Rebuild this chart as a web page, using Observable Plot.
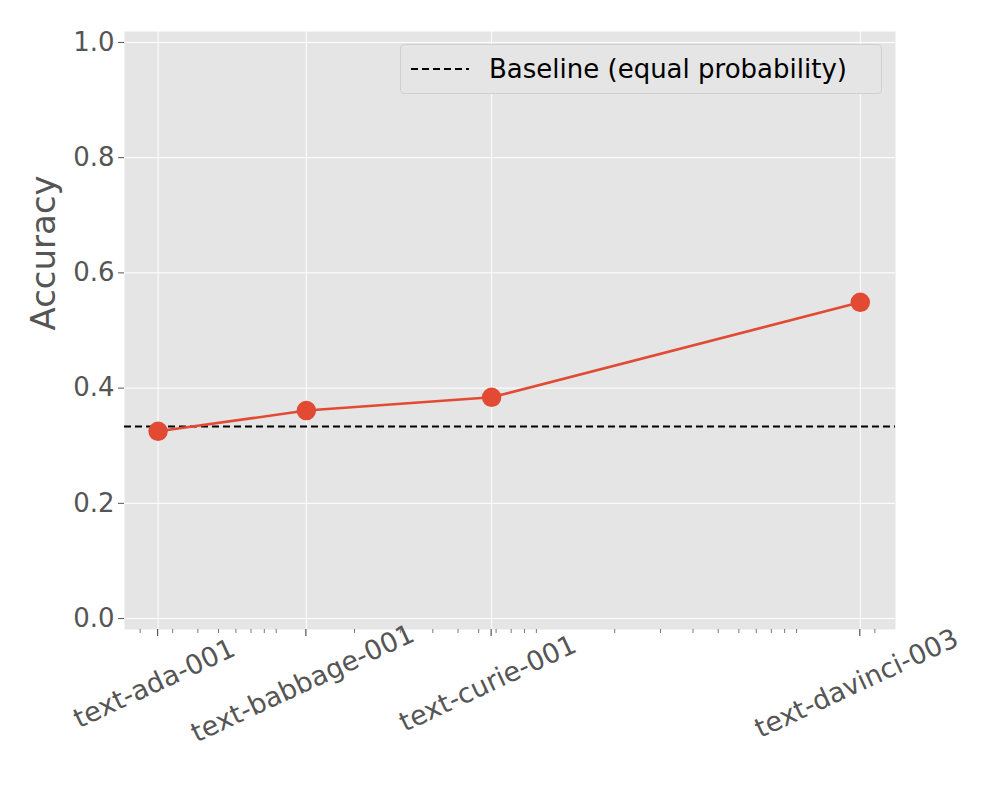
<!DOCTYPE html>
<html><head><meta charset="utf-8">
<script src="https://cdn.jsdelivr.net/npm/d3@7"></script>
<script src="https://cdn.jsdelivr.net/npm/@observablehq/plot@0.6"></script>
<style>
body{margin:0;background:#fff;font-family:"DejaVu Sans",sans-serif}
#wrap{position:relative;width:1000px;height:800px}
#legend{position:absolute;left:400px;top:44px;width:482px;height:50px;background:#e5e5e5;border:1px solid #d0d0d0;border-radius:4px;box-sizing:border-box;font-size:26px;color:#000;display:flex;align-items:center}
#legend svg{margin-left:10px;margin-right:20px}
</style></head><body>
<div id="wrap"><div id="chart"></div>
<div id="legend"><svg width="58" height="10"><line x1="0" y1="5" x2="58" y2="5" stroke="#000" stroke-width="2" stroke-dasharray="7,4"/></svg>Baseline (equal probability)</div></div>
<script>
const models = ["text-ada-001", "text-babbage-001", "text-curie-001", "text-davinci-003"];
const params = [3.5e8, 1.3e9, 6.7e9, 1.75e11];
const accuracy = [0.325, 0.361, 0.384, 0.549];
const baseline = 1/3;
const yTicks = [0, 0.2, 0.4, 0.6, 0.8, 1.0];

const data = models.map((m, i) => ({model: m, x: params[i], y: accuracy[i]}));
const minor = [];
for (let k = 8; k <= 11; k++) for (let j = 1; j <= 9; j++) {
  const v = j * 10 ** k;
  if (v > 2.6e8 && v < 2.39e11 && !params.includes(v)) minor.push(v);
}

const chart = Plot.plot({
  width: 1000, height: 800,
  marginLeft: 124, marginRight: 105, marginTop: 31, marginBottom: 171,
  style: {fontFamily: "DejaVu Sans", fontSize: "26px", color: "#555", background: "#fff", overflow: "visible"},
  x: {type: "log", domain: [2.6e8, 2.39e11], axis: null},
  y: {domain: [-0.019, 1.019], axis: null},
  marks: [
    Plot.frame({fill: "#e5e5e5", stroke: null}),
    Plot.gridY(yTicks, {stroke: "#fff", strokeOpacity: 1, strokeWidth: 1}),
    Plot.gridX(params, {stroke: "#fff", strokeOpacity: 1, strokeWidth: 1}),
    Plot.axisY(yTicks, {tickFormat: d3.format(".1f"), fontSize: 26, tickSize: 6, tickPadding: 4, stroke: "#555", label: null}),
    Plot.text(["Accuracy"], {frameAnchor: "left", dx: -80, rotate: -90, fontSize: 34, fill: "#555"}),
    Plot.text(params, {x: d => d, frameAnchor: "bottom", text: (d, i) => models[i], rotate: -25, dy: 62, fontSize: 27, fill: "#555"}),
    Plot.ruleY([baseline], {stroke: "#000", strokeWidth: 2, strokeDasharray: "7,4"}),
    Plot.line(data, {x: "x", y: "y", stroke: "#e24a33", strokeWidth: 2.5}),
    Plot.dot(data, {x: "x", y: "y", r: 9, fill: "#e24a33", stroke: "#e24a33"})
  ]
});
// tick marks below the axis
const svg = d3.select(chart);
const xs = chart.scale("x");
const g = svg.append("g").attr("stroke", "#555");
params.forEach(v => g.append("line").attr("x1", xs.apply(v)).attr("x2", xs.apply(v)).attr("y1", 629).attr("y2", 636).attr("stroke-width", 1.2));
minor.forEach(v => g.append("line").attr("x1", xs.apply(v)).attr("x2", xs.apply(v)).attr("y1", 629).attr("y2", 633).attr("stroke-width", 0.8));
document.getElementById("chart").append(chart);
</script></body></html>
